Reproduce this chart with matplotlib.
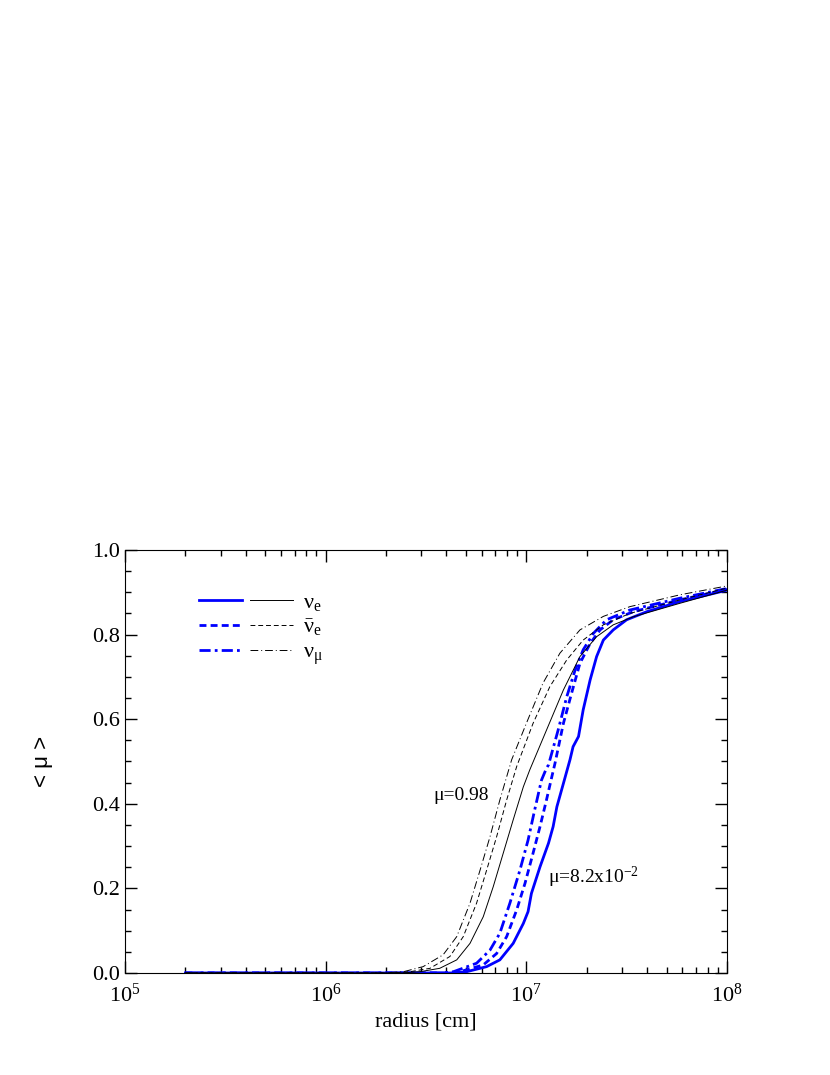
import numpy as np
import matplotlib
matplotlib.use('Agg')
import matplotlib.pyplot as plt
from matplotlib.legend_handler import HandlerTuple

plt.rcParams['font.family'] = ['Liberation Serif', 'DejaVu Serif']
plt.rcParams['mathtext.fontset'] = 'custom'
plt.rcParams['mathtext.rm'] = 'Liberation Serif'
plt.rcParams['mathtext.it'] = 'Liberation Serif:italic'

# mu = 8.2e-2 (blue, thick)
r_nue_b = [2e5, 1e6, 3e6, 4.2e6, 5.04e6, 6.34e6, 7.38e6, 8.6e6, 9.66e6, 1.02e7, 1.06e7,
           1.17e7, 1.29e7, 1.36e7, 1.42e7, 1.53e7, 1.65e7, 1.71e7, 1.82e7, 1.92e7,
           2.08e7, 2.24e7, 2.42e7, 2.71e7, 3.16e7, 3.98e7, 5.83e7, 1e8]
m_nue_b = [0.0, 0.0, 0.0, 0.0, 0.003, 0.015, 0.031, 0.07, 0.117, 0.145, 0.188,
           0.251, 0.307, 0.346, 0.393, 0.448, 0.504, 0.535, 0.559, 0.622,
           0.693, 0.748, 0.787, 0.811, 0.835, 0.854, 0.878, 0.905]

r_anue_b = [2e5, 1e6, 3e6, 4.0e6, 4.67e6, 6.1e6, 7.11e6, 7.98e6, 8.95e6, 9.85e6, 1.08e7,
            1.17e7, 1.26e7, 1.34e7, 1.39e7, 1.53e7, 1.68e7, 1.85e7, 2.08e7, 2.33e7,
            2.71e7, 3.41e7, 5.83e7, 1e8]
m_anue_b = [0.0, 0.0, 0.0, 0.0, 0.003, 0.019, 0.046, 0.086, 0.149, 0.212, 0.283,
            0.346, 0.409, 0.464, 0.496, 0.59, 0.661, 0.732, 0.779, 0.811,
            0.835, 0.854, 0.882, 0.907]

r_numu_b = [2e5, 1e6, 3e6, 3.8e6, 4.33e6, 5.65e6, 6.59e6, 7.38e6, 8.28e6, 9.29e6, 1.02e7,
            1.10e7, 1.19e7, 1.26e7, 1.29e7, 1.44e7, 1.59e7, 1.75e7, 1.92e7, 2.16e7,
            2.51e7, 3.28e7, 5.83e7, 1e8]
m_numu_b = [0.0, 0.0, 0.0, 0.0, 0.003, 0.023, 0.054, 0.094, 0.165, 0.243, 0.314,
            0.385, 0.456, 0.484, 0.492, 0.574, 0.653, 0.716, 0.764, 0.803,
            0.835, 0.858, 0.886, 0.909]

# mu = 0.98 (black, thin)
r_nue_k = [2e5, 1e6, 2.4e6, 2.95e6, 3.7e6, 4.5e6, 5.24e6, 6.1e6, 6.84e6, 7.67e6, 8.6e6,
           9.66e6, 1.04e7, 1.26e7, 1.53e7, 1.85e7, 2.24e7, 2.71e7, 3.41e7, 5.83e7, 1e8]
m_nue_k = [0.0, 0.0, 0.0, 0.003, 0.011, 0.031, 0.07, 0.133, 0.204, 0.283, 0.362,
           0.44, 0.48, 0.574, 0.669, 0.748, 0.795, 0.823, 0.842, 0.874, 0.905]

r_anue_k = [2e5, 1e6, 2.1e6, 2.63e6, 3.31e6, 4.16e6, 4.85e6, 5.65e6, 6.34e6, 7.11e6, 7.98e6,
            8.95e6, 1.08e7, 1.31e7, 1.59e7, 1.92e7, 2.42e7, 3.28e7, 5.83e7, 1e8]
m_anue_k = [0.0, 0.0, 0.0, 0.003, 0.011, 0.039, 0.086, 0.165, 0.243, 0.322, 0.409,
            0.488, 0.59, 0.677, 0.74, 0.787, 0.823, 0.85, 0.882, 0.91]

r_numu_k = [2e5, 1e6, 1.9e6, 2.44e6, 3.06e6, 3.85e6, 4.5e6, 5.24e6, 5.88e6, 6.59e6, 7.38e6,
            8.45e6, 1.0e7, 1.21e7, 1.47e7, 1.85e7, 2.42e7, 3.28e7, 5.83e7, 1e8]
m_numu_k = [0.0, 0.0, 0.0, 0.003, 0.015, 0.043, 0.086, 0.165, 0.243, 0.322, 0.409,
            0.504, 0.59, 0.685, 0.756, 0.811, 0.843, 0.866, 0.894, 0.915]

blue = '#0000ff'

fig = plt.figure(figsize=(8.3, 10.75), dpi=100)
ax = fig.add_axes([0.1506, 0.0949, 0.7253, 0.3935])

l1b, = ax.plot(r_nue_b, m_nue_b, color=blue, lw=2.0)
l2b, = ax.plot(r_anue_b, m_anue_b, color=blue, lw=2.0, ls=(0, (2.5, 1.5)))
l3b, = ax.plot(r_numu_b, m_numu_b, color=blue, lw=2.0, ls=(0, (4, 1.5, 1, 1.5)))
l1k, = ax.plot(r_nue_k, m_nue_k, color='black', lw=0.7)
l2k, = ax.plot(r_anue_k, m_anue_k, color='black', lw=0.7, ls=(0, (5, 3)))
l3k, = ax.plot(r_numu_k, m_numu_k, color='black', lw=0.7, ls=(0, (8, 3, 1, 3)))

ax.set_xscale('log')
ax.set_xlim(1e5, 1e8)
ax.set_ylim(0, 1.0)
ax.set_yticks(np.arange(0, 1.01, 0.2))
ax.set_yticks(np.arange(0, 1.01, 0.05), minor=True)
ax.set_yticklabels(['0.0', '0.2', '0.4', '0.6', '0.8', '1.0'])
ax.tick_params(which='both', direction='in', top=True, right=True, labelsize=16)
ax.tick_params(which='major', length=8.5, width=1)
ax.tick_params(which='minor', length=4.5, width=1)
ax.tick_params(axis='x', pad=8)

ax.set_xlabel('radius [cm]', fontsize=16)
ax.set_ylabel('< μ >', fontsize=16, labelpad=28, family=['Liberation Sans', 'DejaVu Sans'])

ax.text(3.43e6, 0.409, 'μ=0.98', fontsize=14)
ax.text(1.28e7, 0.213, 'μ=8.2x10$^{-2}$', fontsize=14)

ax.legend([(l1b, l1k), (l2b, l2k), (l3b, l3k)],
          [r'$\mathrm{\nu}_{\rm e}$', r'$\bar{\mathrm{\nu}}_{\rm e}$',
           r'$\mathrm{\nu}_{\mathrm{\mu}}$'],
          handler_map={tuple: HandlerTuple(ndivide=None, pad=0.36)},
          loc='upper left', bbox_to_anchor=(0.09, 0.948), frameon=False,
          fontsize=16, handlelength=4.2, handletextpad=0.45, labelspacing=0.2)

fig.savefig('out.png', dpi=100)
